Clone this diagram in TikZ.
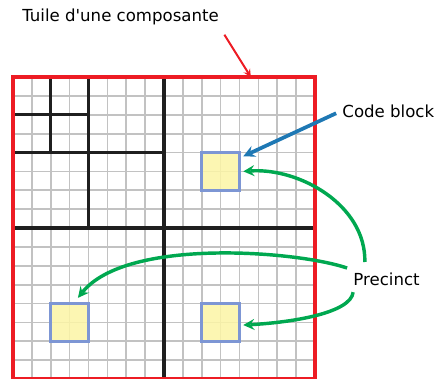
\documentclass[tikz,border=0pt]{standalone}
\usepackage{fontspec}
\setmainfont{DejaVu Sans}
\usepackage[dvipsnames]{xcolor}

\definecolor{rougetuile}{RGB}{237,28,36}
\definecolor{vertprec}{RGB}{0,168,80}
\definecolor{bleucb}{RGB}{30,120,180}
\definecolor{bordbloc}{RGB}{125,150,212}
\definecolor{jaunebloc}{RGB}{252,245,165}

\tikzset{
  etiquette/.style={inner sep=0pt, anchor=west, font=\fontsize{12.5}{14}\selectfont},
  bloc/.style={draw=bordbloc, line width=2.3pt, fill=jaunebloc, fill opacity=0.85, minimum size=1cm, inner sep=0pt, outer sep=0pt},
  fleche prec/.style={->,>=stealth, line width=2.6pt, vertprec},
}

\begin{document}
\begin{tikzpicture}[scale=1]
\useasboundingbox (-0.344,0.02) rectangle (11.205,10.04);

%papier milli
\draw [line width=1.3pt, black!24] (0,0) grid[step=0.5] (8,8);

%decoupage
\draw [line width=2.6pt, black!88] (4,0) -- (4,8);
\draw [line width=2.6pt, black!88] (0,4) -- (8,4);
\draw [line width=2.6pt, black!88] (2,4) -- (2,8);
\draw [line width=2.6pt, black!88] (0,6) -- (4,6);
\draw [line width=2.6pt, black!88] (1,6) -- (1,8);
\draw [line width=2.6pt, black!88] (0,7) -- (2,7);

\node [draw=rougetuile, line width=2.6pt, minimum size=8cm, inner sep=0pt, outer sep=0pt] (tile) at (4,4) {};

%blocs de code
\node [bloc] (b1) at (5.5,5.5) {};
\node [bloc] (b2) at (1.5,1.5) {};
\node [bloc] (b3) at (5.5,1.5) {};

\node [etiquette] (title) at (0.24,9.59) {Tuile d{\textquotesingle}une composante};
\node [etiquette] (codeblock) at (8.72,7.08) {Code block};
\node [etiquette] (precinct) at (9.01,2.65) {Precinct};

\draw[->,>=stealth, line width=1.5pt, rougetuile] ([shift={(0.14,-0.25)}]title.south east) -- ([xshift=2.3cm]tile.north);
\draw[->,>=stealth, line width=2.8pt, bleucb] ([shift={(-0.16,-0.04)}]codeblock.west) -- ([shift={(0.1,-0.1)}]b1.north east);

\draw[fleche prec] ([shift={(0.31,0.45)}]precinct.west) .. controls (9.35,4.6) and (7.6,5.6) .. ([xshift=0.1cm]b1.east);
\draw[fleche prec] ([shift={(-0.16,0.29)}]precinct.west) .. controls (7.5,3.4) and (3.0,3.75) .. ([shift={(0.22,0.15)}]b2.north);
\draw[fleche prec] ([shift={(0,-0.35)}]precinct.west) .. controls (8.95,1.75) and (7.4,1.5) .. ([shift={(0.1,-0.07)}]b3.east);

\end{tikzpicture}
\end{document}
